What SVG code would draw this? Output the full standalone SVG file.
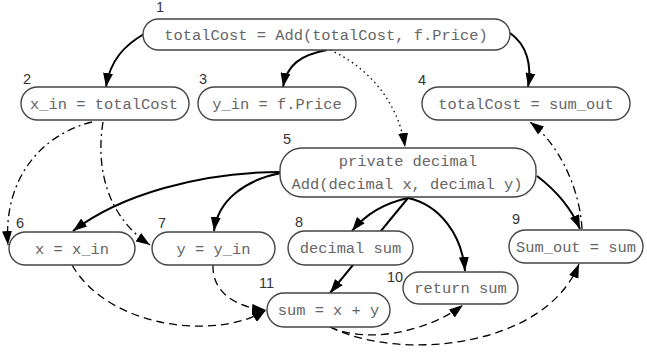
<svg xmlns="http://www.w3.org/2000/svg" width="647" height="352" viewBox="0 0 647 352">
<style>
.box{fill:#fff;stroke:#444;stroke-width:1.4}
.t{font-family:"Liberation Mono","DejaVu Sans Mono",monospace;font-size:15.4px;fill:#666;text-anchor:middle}
.n{font-family:"Liberation Sans",Arial,sans-serif;font-size:14.5px;fill:#333}
.s{fill:none;stroke:#000;stroke-width:2;marker-end:url(#ah)}
.d{fill:none;stroke:#000;stroke-width:1.3;stroke-dasharray:8 5;marker-end:url(#ah)}
.dd{fill:none;stroke:#000;stroke-width:1.3;stroke-dasharray:8 4 2 4;marker-end:url(#ah)}
.dt{fill:none;stroke:#000;stroke-width:1.3;stroke-dasharray:1.5 3.5;marker-end:url(#ah)}
</style>
<defs>
<marker id="ah" viewBox="0 0 14 10" refX="14" refY="5" markerWidth="14" markerHeight="10" markerUnits="userSpaceOnUse" orient="auto">
<path d="M0,0 L14,5 L0,10 z" fill="#000"/>
</marker>
</defs>
<rect width="647" height="352" fill="#fff"/>
<g id="connectors">
<path class="s" d="M144,34 C125,45 110,60 106,87"/>
<path class="s" d="M327,50 C300,55 287,65 283,87"/>
<path class="dt" d="M330,50 C375,70 400,110 405,147"/>
<path class="s" d="M510,33 C527,45 532,65 528,87"/>
<path class="dd" d="M92,122 C40,135 3,180 8,245"/>
<path class="dd" d="M103,122 C96,165 105,215 150,245"/>
<path class="s" d="M281,172 C200,172 120,195 73,231"/>
<path class="s" d="M281,173 C245,180 218,200 214,231"/>
<path class="s" d="M408,198 C385,203 365,215 352,231"/>
<path class="s" d="M408,198 L330,293"/>
<path class="s" d="M408,198 C440,205 462,235 465,271"/>
<path class="s" d="M537,176 C558,192 572,210 580,229"/>
<path class="dd" d="M582,229 C580,190 560,145 530,122"/>
<path class="d" d="M72,265 C110,330 220,340 266,310"/>
<path class="d" d="M213,265 C212,295 240,308 266,310"/>
<path class="d" d="M330,327 C370,345 430,330 463,305"/>
<path class="d" d="M330,327 C400,362 545,348 579,264"/>
</g>
<g id="node1"><rect class="box" x="143" y="19" width="367" height="31" rx="15.5"/><text class="t" x="326" y="39.5">totalCost = Add(totalCost, f.Price)</text><text class="n" x="156" y="12">1</text></g>
<g id="node2"><rect class="box" x="21" y="87" width="168" height="33" rx="16.5"/><text class="t" x="104" y="108.5">x_in = totalCost</text><text class="n" x="23" y="84">2</text></g>
<g id="node3"><rect class="box" x="198" y="87" width="158" height="33" rx="16.5"/><text class="t" x="277" y="108.5">y_in = f.Price</text><text class="n" x="199" y="84">3</text></g>
<g id="node4"><rect class="box" x="422" y="87" width="208" height="33" rx="16.5"/><text class="t" x="526" y="108.5">totalCost = sum_out</text><text class="n" x="418" y="85">4</text></g>
<g id="node5"><rect class="box" x="280" y="148" width="256" height="49" rx="22"/><text class="t" x="408" y="166">private decimal</text><text class="t" x="407" y="189">Add(decimal x, decimal y)</text><text class="n" x="283" y="144">5</text></g>
<g id="node6"><rect class="box" x="9" y="232" width="126" height="33" rx="16.5"/><text class="t" x="72" y="253.5">x = x_in</text><text class="n" x="16" y="228">6</text></g>
<g id="node7"><rect class="box" x="152" y="232" width="123" height="33" rx="16.5"/><text class="t" x="213.5" y="253.5">y = y_in</text><text class="n" x="158" y="228">7</text></g>
<g id="node8"><rect class="box" x="288" y="231" width="125" height="34" rx="17"/><text class="t" x="350.5" y="253">decimal sum</text><text class="n" x="295" y="227">8</text></g>
<g id="node9"><rect class="box" x="509" y="230" width="134" height="33" rx="16.5"/><text class="t" x="576" y="251.5">Sum_out = sum</text><text class="n" x="512" y="224">9</text></g>
<g id="node10"><rect class="box" x="403" y="272" width="115" height="32" rx="16"/><text class="t" x="460.5" y="293">return sum</text><text class="n" x="387" y="282">10</text></g>
<g id="node11"><rect class="box" x="267" y="293" width="123" height="34" rx="17"/><text class="t" x="328.5" y="315">sum = x + y</text><text class="n" x="259" y="288">11</text></g>
</svg>
